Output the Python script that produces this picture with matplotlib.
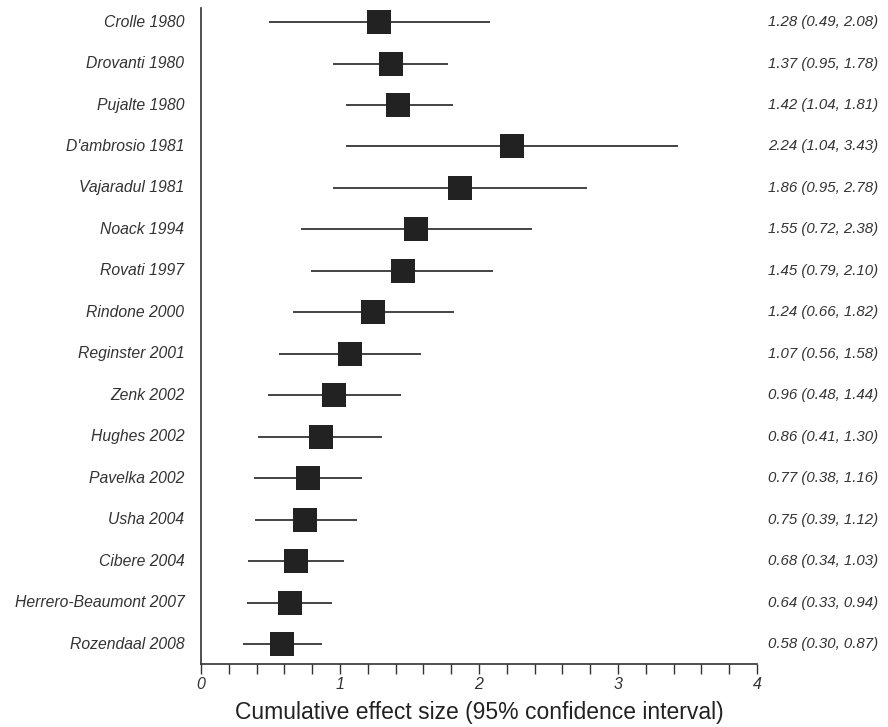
import matplotlib.pyplot as plt
from matplotlib.ticker import MultipleLocator

plt.rcParams['font.family'] = ['Liberation Sans', 'DejaVu Sans']

# Cumulative meta-analysis data
studies = ['Crolle 1980', 'Drovanti 1980', 'Pujalte 1980', "D'ambrosio 1981",
           'Vajaradul 1981', 'Noack 1994', 'Rovati 1997', 'Rindone 2000',
           'Reginster 2001', 'Zenk 2002', 'Hughes 2002', 'Pavelka 2002',
           'Usha 2004', 'Cibere 2004', 'Herrero-Beaumont 2007', 'Rozendaal 2008']
effect = [1.28, 1.37, 1.42, 2.24, 1.86, 1.55, 1.45, 1.24,
          1.07, 0.96, 0.86, 0.77, 0.75, 0.68, 0.64, 0.58]
lower = [0.49, 0.95, 1.04, 1.04, 0.95, 0.72, 0.79, 0.66,
         0.56, 0.48, 0.41, 0.38, 0.39, 0.34, 0.33, 0.30]
upper = [2.08, 1.78, 1.81, 3.43, 2.78, 2.38, 2.10, 1.82,
         1.58, 1.44, 1.30, 1.16, 1.12, 1.03, 0.94, 0.87]

fig = plt.figure(figsize=(8.88, 7.27), dpi=100)
ax = fig.add_axes([201 / 888, 63 / 727, 556 / 888, 656 / 727])

ypos = list(range(len(studies)))
ax.hlines(ypos, lower, upper, color='#111111', lw=1.1)
ax.plot(effect, ypos, 's', color='#222222', markersize=17.5, markeredgewidth=0)

for y, name, e, lo, hi in zip(ypos, studies, effect, lower, upper):
    ax.text(-0.12, y, name, ha='right', va='center', fontsize=11.3,
            style='italic', color='#333333')
    ax.text(4.87, y, f'{e:.2f} ({lo:.2f}, {hi:.2f})', ha='right', va='center',
            fontsize=10.8, style='italic', color='#333333')

ax.set_xlim(0, 4)
ax.set_ylim(15.48, -0.34)
ax.set_yticks([])
ax.xaxis.set_major_locator(MultipleLocator(1))
ax.xaxis.set_minor_locator(MultipleLocator(0.2))
ax.tick_params(axis='x', which='both', direction='out', length=7, width=1,
               labelsize=11.5, colors='#333333', pad=2.5)
for lab in ax.get_xticklabels():
    lab.set_style('italic')
ax.spines['top'].set_visible(False)
ax.spines['right'].set_visible(False)
for s in ['left', 'bottom']:
    ax.spines[s].set_color('#333333')
    ax.spines[s].set_linewidth(1.2)
ax.set_xlabel('Cumulative effect size (95% confidence interval)', fontsize=16.5,
              color='#222222', labelpad=6)

fig.savefig('out.png', dpi=100)
